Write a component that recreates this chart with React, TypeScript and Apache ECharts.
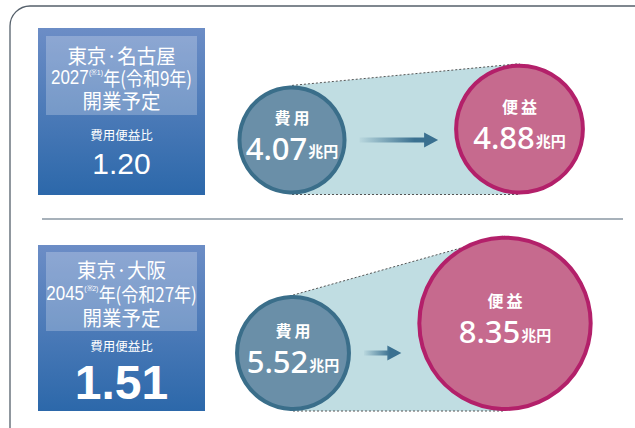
import React, { useEffect, useRef } from "react";
import * as echarts from "echarts";

const routes = ["東京·名古屋", "東京·大阪"];
const openYears = ["2027", "2045"];
const notes = ["(※1)", "(※2)"];
const eraYears = ["年(令和9年)", "年(令和27年)"];
const openLabel = "開業予定";
const ratioLabel = "費用便益比";
const bcRatios = ["1.20", "1.51"];
const costLabel = "費用";
const benefitLabel = "便益";
const unit = "兆円";
const costs = [4.07, 5.52];
const benefits = [4.88, 8.35];

// layout per panel
const panels = [
  { top: 28, boxH: 167, innerTop: 36, innerH: 79, lines: [55, 77, 100, 134, 163], ratioSize: 30, baseline: 194.5, costX: 292, benX: 519.5, scale: 13.4 },
  { top: 245, boxH: 166, innerTop: 252, innerH: 79, lines: [269, 293, 317, 345, 382], ratioSize: 48, baseline: 411, costX: 293, benX: 505, scale: 10.5 },
];

const CJK = '"Noto Sans CJK JP", sans-serif';
const NUM = '"Liberation Sans", Arial, sans-serif';
const ROUND = '"Noto Sans", "Liberation Sans", sans-serif';

export default function App() {
  const ref = useRef<HTMLDivElement>(null);
  useEffect(() => {
    const chart = echarts.init(ref.current!, null, { renderer: "svg" });
    const graphic: any[] = [];
    const costData: any[] = [];
    const benData: any[] = [];

    graphic.push({
      type: "rect",
      shape: { x: 10, y: 6, width: 700, height: 500, r: 20 },
      style: { fill: "#fff", stroke: "#55606b", lineWidth: 1.3 },
      z: -10,
    });
    graphic.push({
      type: "line",
      shape: { x1: 42, y1: 219, x2: 623, y2: 219 },
      style: { stroke: "#8a97a3", lineWidth: 1.5 },
      z: 0,
    });

    panels.forEach((p, i) => {
      const cx = 121.5;
      graphic.push({
        type: "rect",
        shape: { x: 38, y: p.top, width: 167, height: p.boxH },
        style: {
          fill: new echarts.graphic.LinearGradient(0, 0, 0, 1, [
            { offset: 0, color: "#6c8dc6" },
            { offset: 1, color: "#2c68aa" },
          ]),
        },
        z: 0,
      });
      graphic.push({
        type: "rect",
        shape: { x: 46, y: p.innerTop, width: 151, height: p.innerH },
        style: { fill: "rgba(255,255,255,0.24)" },
        z: 1,
      });
      graphic.push({
        type: "text",
        z: 10,
        x: cx,
        y: p.lines[0],
        scaleX: 0.95,
        style: { x: 0, y: 0, text: routes[i], align: "center", verticalAlign: "middle", fill: "#fff", fontSize: 20.5, fontWeight: "normal", fontFamily: CJK },
      });
      graphic.push({
        type: "text",
        z: 10,
        x: cx,
        y: p.lines[1],
        scaleX: 0.87,
        style: {
          x: 0, y: 0, align: "center", verticalAlign: "middle", fill: "#fff",
          text: `{a|${openYears[i]}}{s|${notes[i]}}{b|${eraYears[i]}}`,
          rich: {
            a: { fontSize: 19.5, fontFamily: NUM, fill: "#fff", lineHeight: 18 },
            s: { fontSize: 8, fontFamily: NUM, fill: "#fff", verticalAlign: "top", lineHeight: 18 },
            b: { fontSize: 19.5, fontFamily: CJK, fill: "#fff", lineHeight: 18 },
          },
        },
      });
      graphic.push({
        type: "text",
        z: 10,
        x: cx,
        y: p.lines[2],
        scaleX: 0.95,
        style: { x: 0, y: 0, text: openLabel, align: "center", verticalAlign: "middle", fill: "#fff", fontSize: 20.5, fontWeight: "normal", fontFamily: CJK },
      });
      graphic.push({
        type: "text",
        z: 10,
        style: { x: cx, y: p.lines[3], text: ratioLabel, align: "center", verticalAlign: "middle", fill: "#fff", fontSize: 12.5, fontFamily: CJK },
      });
      graphic.push({
        type: "text",
        z: 10,
        style: { x: cx, y: p.lines[4], text: bcRatios[i], align: "center", verticalAlign: "middle", fill: "#fff", fontSize: p.ratioSize, fontWeight: i === 1 ? "bold" : "normal", fontFamily: NUM },
      });

      const rc = costs[i] * p.scale;
      const rb = benefits[i] * p.scale;
      const cyc = p.baseline - rc;
      const cyb = p.baseline - rb;
      costData.push({ value: [p.costX, cyc, costs[i]], symbolSize: rc * 2 - 4 });
      benData.push({ value: [p.benX, cyb, benefits[i]], symbolSize: rb * 2 - 4 });

      graphic.push({
        type: "polygon",
        z: 0,
        shape: { points: [[p.costX, cyc - rc], [p.benX, cyb - rb], [p.benX, p.baseline], [p.costX, p.baseline]] },
        style: { fill: "#c0dde2" },
      });
      graphic.push({
        type: "line",
        z: 1,
        shape: { x1: p.costX, y1: cyc - rc, x2: p.benX, y2: cyb - rb },
        style: { stroke: "#555", lineWidth: 1, lineDash: [2, 2] },
      });
      graphic.push({
        type: "line",
        z: 1,
        shape: { x1: p.costX, y1: p.baseline, x2: p.benX, y2: p.baseline },
        style: { stroke: "#555", lineWidth: 1, lineDash: [2, 2] },
      });
      const ax1 = p.costX + rc + 13;
      const ax2 = p.benX - rb - 16;
      const ay = cyc;
      graphic.push({
        type: "polygon",
        z: 5,
        shape: {
          points: [
            [ax1, ay - 2.5], [ax2 - 14, ay - 2.5], [ax2 - 14, ay - 7.5], [ax2, ay],
            [ax2 - 14, ay + 7.5], [ax2 - 14, ay + 2.5], [ax1, ay + 2.5],
          ],
        },
        style: {
          fill: new echarts.graphic.LinearGradient(0, 0, 1, 0, [
            { offset: 0, color: "rgba(58,112,144,0.05)" },
            { offset: 0.7, color: "#3a7090" },
            { offset: 1, color: "#3a7090" },
          ]),
        },
      });
    });

    const labelRich = {
      t: { fontSize: 16, fontWeight: "bold", color: "#fff", fontFamily: CJK, lineHeight: 26 },
      v: { fontSize: 31, fontWeight: 500, color: "#fff", fontFamily: ROUND, lineHeight: 36 },
      u: { fontSize: 15, fontWeight: "bold", color: "#fff", fontFamily: CJK, lineHeight: 36, padding: [6, 0, 0, 1] },
    };

    chart.setOption({
      animation: false,
      grid: { left: 0, top: 0, width: 635, height: 428 },
      xAxis: { type: "value", min: 0, max: 635, show: false },
      yAxis: { type: "value", min: 0, max: 428, inverse: true, show: false },
      graphic,
      series: [
        {
          type: "scatter",
          z: 3,
          data: costData,
          itemStyle: { color: "#6a8fa8", borderColor: "#3a6e8a", borderWidth: 4, opacity: 1 },
          label: {
            show: true,
            position: "inside",
            offset: [0, -5],
            formatter: (d: any) => `{t|${costLabel.split("").join("\u2009")}}\n{v|${d.value[2].toFixed(2)}}{u|${unit}}`,
            rich: labelRich,
          },
          emphasis: { disabled: true },
        },
        {
          type: "scatter",
          z: 3,
          data: benData,
          itemStyle: { color: "#c66a8e", borderColor: "#b3206a", borderWidth: 4, opacity: 1 },
          label: {
            show: true,
            position: "inside",
            offset: [0, -5],
            formatter: (d: any) => `{t|${benefitLabel.split("").join("\u2009")}}\n{v|${d.value[2].toFixed(2)}}{u|${unit}}`,
            rich: labelRich,
          },
          emphasis: { disabled: true },
        },
      ],
    });
    return () => chart.dispose();
  }, []);
  return <div ref={ref} style={{ position: "absolute", left: 0, top: 0, width: 635, height: 428 }} />;
}
